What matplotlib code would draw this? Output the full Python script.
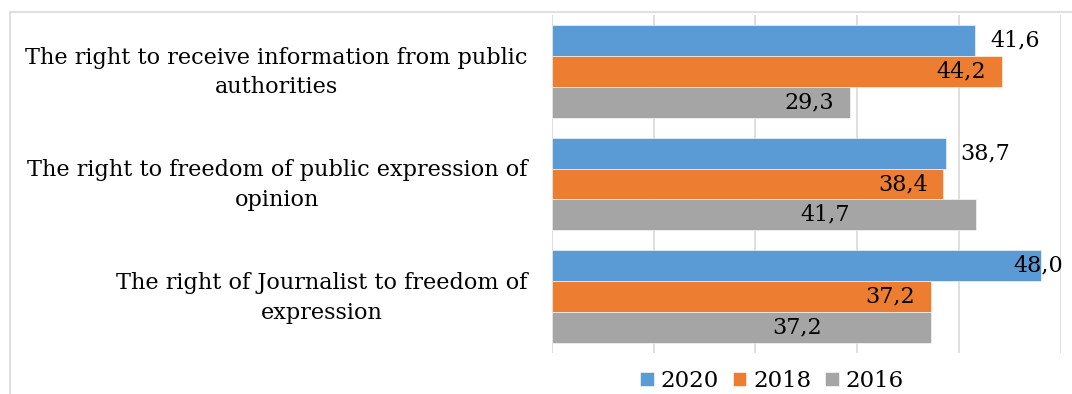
import numpy as np
import matplotlib.pyplot as plt
from matplotlib.patches import Rectangle
from matplotlib.transforms import ScaledTranslation

# Survey shares by right, per year
categories = [
    "The right to receive information from public\nauthorities",
    "The right to freedom of public expression of\nopinion",
    "The right of Journalist to freedom of\nexpression",
]
years = ["2020", "2018", "2016"]
values_2020 = [41.6, 38.7, 48.0]
values_2018 = [44.2, 38.4, 37.2]
values_2016 = [29.3, 41.7, 37.2]
series = [values_2020, values_2018, values_2016]
colors = ["#5B9BD5", "#ED7D31", "#A5A5A5"]

# where each value label sits, relative to the end of its bar
label_shift = [[3.9, 3.9, -0.2], [-4.0, -3.9, -4.0], [-4.0, -14.9, -13.1]]

plt.rcParams["font.family"] = ["DejaVu Serif"]
fig = plt.figure(figsize=(10.72, 3.94), dpi=100)
ax = fig.add_axes([0.5147, 0.1041, 0.475, 0.8578])

# outer chart frame
fig.patches.append(Rectangle((9.5 / 1072, -0.5), 2, 1.5 - 12 / 394,
                             transform=fig.transFigure, fill=False,
                             edgecolor="#d9d9d9", linewidth=1.2))

y = np.arange(len(categories))
h = 31 / 113
for i, (vals, col, yr) in enumerate(zip(series, colors, years)):
    pos = y + (i - 1) * h
    ax.barh(pos, vals, height=h, color=col, label=yr, zorder=2,
            edgecolor="white", linewidth=0.4)
    for p, v, s in zip(pos, vals, label_shift[i]):
        ax.text(v + s, p, f"{v:.1f}".replace(".", ","), ha="center",
                va="center", fontsize=16, color="black", zorder=3,
                clip_on=False)

ax.set_xlim(0, 50)
ax.set_ylim(len(categories) - 0.5, -0.5)
ax.set_xticks(np.arange(0, 51, 10))
ax.xaxis.grid(True, color="#d9d9d9", linewidth=1.2, zorder=0)
ax.tick_params(axis="x", length=0, labelbottom=False)
ax.tick_params(axis="y", length=0, pad=17.5)
ax.set_yticks(y)
ax.set_yticklabels(categories, fontsize=16.1, linespacing=1.45)
# nudge the two-line category labels up a little
lift = ScaledTranslation(0, 5 / 100, fig.dpi_scale_trans)
for lab in ax.get_yticklabels():
    lab.set_multialignment("center")
    lab.set_transform(lab.get_transform() + lift)
for sp in ax.spines.values():
    sp.set_visible(False)

ax.legend(loc="center", bbox_to_anchor=(772 / 1072, 13 / 394),
          bbox_transform=fig.transFigure, ncol=3, frameon=False,
          fontsize=16.5, handlelength=0.6, handleheight=0.6,
          handletextpad=0.3, columnspacing=0.6)

fig.savefig("out.png", dpi=100)
